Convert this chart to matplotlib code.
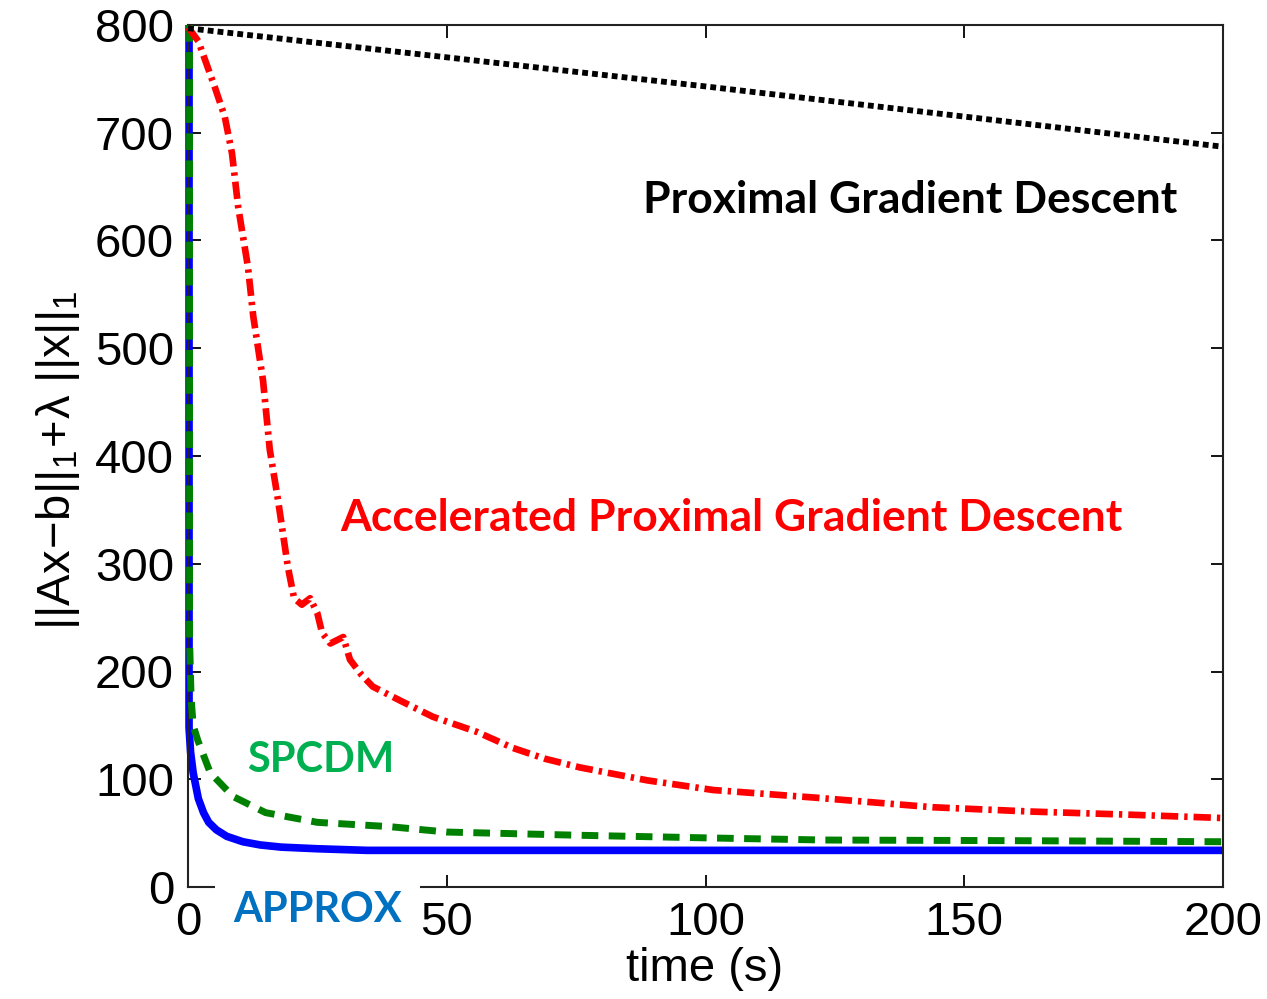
import matplotlib
matplotlib.use("Agg")
import matplotlib.pyplot as plt
from matplotlib.patches import Rectangle

plt.rcParams['font.family'] = ['Liberation Sans', 'DejaVu Sans']
plt.rcParams['mathtext.fontset'] = 'custom'
plt.rcParams['mathtext.rm'] = 'Liberation Sans'
plt.rcParams['mathtext.it'] = 'Liberation Sans'
plt.rcParams['mathtext.bf'] = 'Liberation Sans:bold'

# values (time in s, objective value)
t_pgd = [0, 50, 100, 150, 200]
v_pgd = [797, 770, 743, 715, 687]

t_apgd = [0, 2, 5.2, 7.1, 8.5, 9.7, 11.6, 12.6, 14.5, 15.8, 17.4, 19.3, 20.5,
          22, 23.6, 25, 25.9, 27.5, 30, 31.3, 33.5, 35.7, 41, 47.3, 55.8,
          62.8, 69, 75.7, 88.7, 101.5, 121, 144, 163, 182.6, 200]
v_apgd = [798, 785, 742, 715, 681, 631, 575, 530, 470, 406, 359, 297, 268,
          262, 268, 254, 236, 226, 232, 211, 197, 186, 173, 158, 144,
          129, 119, 111, 99, 90, 83, 74, 70, 67, 64]

t_spcdm = [0.3, 0.3, 0.6, 1.0, 1.9, 4.3, 8.7, 15, 25, 39, 50, 75.7, 101, 123, 160, 200]
v_spcdm = [800, 230, 175, 150, 136, 106, 84, 69, 60, 56, 51, 48, 45.5, 43.6, 43, 42]

t_approx = [0.2, 0.2, 0.5, 1.0, 2.0, 3.0, 4.0, 5.5, 7.5, 10.6, 14, 18, 25, 34.6, 60, 100, 150, 200]
v_approx = [800, 148, 125, 106, 82, 69, 60, 53, 47, 42, 39, 37, 35.5, 34, 34, 34, 34, 34]

fig = plt.figure(figsize=(12.67, 9.99), dpi=100)
ax = fig.add_axes([188/1267, 112/999, 1035/1267, 862/999])

ax.plot(t_approx, v_approx, color='#0000ff', lw=5.5, solid_capstyle='butt', clip_on=False, zorder=2)
ax.plot(t_spcdm, v_spcdm, color='#008000', lw=5, linestyle=(0, (2.4, 1.5)),
        dash_capstyle='butt', clip_on=False, zorder=3)
ax.plot(t_apgd, v_apgd, color='#ff0000', lw=4.8, linestyle=(0, (2.6, 0.9, 0.5, 0.9)),
        dash_capstyle='butt', clip_on=False, zorder=4)
ax.plot(t_pgd, v_pgd, color='black', lw=4.2, linestyle=(0, (1.0, 0.7)),
        dash_capstyle='butt', clip_on=False, zorder=4)

ax.set_xlim(0, 200)
ax.set_ylim(0, 800)
ax.set_xticks([0, 50, 100, 150, 200])
ax.set_yticks(range(0, 801, 100))
ax.tick_params(direction='in', length=9, width=1.3, labelsize=34,
               top=True, right=True, pad=10)
for s in ax.spines.values():
    s.set_linewidth(1.5)
    s.set_color('#222222')

ax.set_xlabel('time (s)', fontsize=34)
ax.xaxis.set_label_coords(0.4995, -0.07)
ax.set_ylabel(r'$||Ax\!-\!b||_1\!+\!\lambda\ ||x||_1$', fontsize=34)
ax.yaxis.set_label_coords(-0.102, 0.495)

# white box behind the APPROX label
fig.add_artist(Rectangle((215/1267, 1 - 945/999), 205/1267, 65/999,
                         transform=fig.transFigure, facecolor='white',
                         edgecolor='none', zorder=5))

lab = dict(family=['Lato', 'DejaVu Sans'], fontweight='bold', fontsize=32,
           ha='center', va='center', zorder=6)
fig.text(910/1267, 1 - 200/999, 'Proximal Gradient Descent', color='black', **lab)
fig.text(731/1267, 1 - 518/999, 'Accelerated Proximal Gradient Descent', color='#ff0000', **lab)
lab['fontsize'] = 30
fig.text(321/1267, 1 - 760/999, 'SPCDM', color='#00b050', **lab)
fig.text(318/1267, 1 - 910/999, 'APPROX', color='#0070c0', **lab)

fig.savefig('out.png', dpi=100)
